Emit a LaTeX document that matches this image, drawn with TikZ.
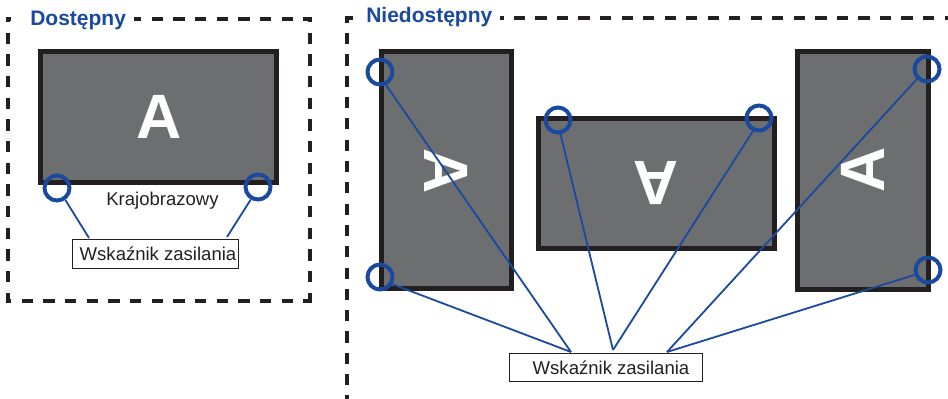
\documentclass[tikz,border=0pt]{standalone}
\usepackage{fontspec}
\setmainfont{Liberation Sans}
\definecolor{ink}{HTML}{231F20}
\definecolor{panel}{HTML}{6D6E70}
\definecolor{ring}{HTML}{1A4A9F}
\tikzset{
  px/.style={x=0.75pt,y=-0.75pt},
  frameline/.style={draw=ink,line width=2.3pt,dash pattern=on 8.6pt off 7.65pt,dash phase=4.85pt,shorten <=-1.15pt,shorten >=-1.15pt},
  frameacross/.style={frameline,dash pattern=on 8.4pt off 7.75pt,dash phase=2.9pt},
  framedown/.style={frameline,dash pattern=on 8.4pt off 7.59pt,dash phase=3.6pt},
  heading/.style={anchor=west,inner xsep=6pt,inner ysep=1pt,fill=white,text=ring,font=\fontsize{15.75pt}{18pt}\selectfont\bfseries},
  monitor/.style={draw=ink,fill=panel,line width=3.75pt,inner sep=0pt},
  letter/.style={text=white,inner sep=0pt,font=\fontsize{47pt}{50pt}\selectfont\bfseries},
  ledring/.style={circle,draw=ring,line width=3pt,minimum size=18.75pt,inner sep=0pt},
  leadline/.style={draw=ring,line width=1.35pt},
  labelbox/.style={draw=ink,fill=white,line width=0.6pt,inner sep=0pt},
  caption/.style={text=ink,inner sep=0pt,font=\fontsize{13.9pt}{16pt}\selectfont},
}
\begin{document}
\begin{tikzpicture}[px]
\useasboundingbox (0,0) rectangle (948,399);
% frames
\coordinate (fa) at (8,19);
\coordinate (fb) at (310,19);
\coordinate (fc) at (310,301);
\coordinate (fd) at (8,301);
\coordinate (ga) at (347,18);
\coordinate (gb) at (948,18);
\coordinate (gd) at (347,399);
\draw[frameline] (fa) -- (fb);
\draw[frameline] (fb) -- (fc);
\draw[frameline] (fa) -- (fd);
\draw[frameline] (fd) -- (fc);
\draw[frameacross] (ga) -- (gb);
\draw[framedown] (ga) -- (gd);
\node[heading] (avail) at (22,20) {Dostępny};
\node[heading] (unavail) at (358,17.5) {Niedostępny};
% monitors
\node[monitor,minimum width=177pt,minimum height=98.25pt] (m1) at (158.5,117) {};
\node[monitor,minimum width=97.5pt,minimum height=177.75pt] (m2) at (446.5,170) {};
\node[monitor,minimum width=177pt,minimum height=97.5pt] (m3) at (656.5,183.5) {};
\node[monitor,minimum width=98.25pt,minimum height=177.75pt] (m4) at (863,170.5) {};
\node[letter] (a1) at (159,117) {A};
\node[letter,rotate=-90] (a2) at (446,171) {A};
\node[letter,rotate=180] (a3) at (656,183.5) {A};
\node[letter,rotate=90] (a4) at (863,170) {A};
\node[caption] (land) at (162.5,201) {Krajobrazowy};
% label boxes
\node[labelbox,minimum width=124.5pt,minimum height=21.75pt] (b1) at (155,253.5) {};
\node[labelbox,minimum width=144.75pt,minimum height=21pt] (b2) at (605.5,367) {};
\node[caption] (t1) at (158,254) {Wskaźnik zasilania};
\node[caption] (t2) at (611,367.5) {Wskaźnik zasilania};
% anchor points on the label boxes
\coordinate (p1) at (89,238);
\coordinate (p2) at (227,237);
\coordinate (p3) at (571,352);
\coordinate (p4) at (613,350);
\coordinate (p5) at (667,352);
% rings
\node[ledring] (c1) at (57,188) {};
\node[ledring] (c2) at (258,187) {};
\node[ledring] (c3) at (380,72) {};
\node[ledring] (c4) at (380,277) {};
\node[ledring] (c5) at (558,120) {};
\node[ledring] (c6) at (759,118) {};
\node[ledring] (c7) at (927,69) {};
\node[ledring] (c8) at (928,270) {};
% leaders
\draw[leadline] (c1.-55) -- (p1);
\draw[leadline] (c2.-120) -- (p2);
\draw[leadline] (c3.-65) -- (p3);
\draw[leadline] (c4.-30) -- (p3);
\draw[leadline] (c5.-80) -- (p4);
\draw[leadline] (c6.-115) -- (p4);
\draw[leadline] (c7.-135) -- (p5);
\draw[leadline] (c8.-160) -- (p5);
\end{tikzpicture}
\end{document}
